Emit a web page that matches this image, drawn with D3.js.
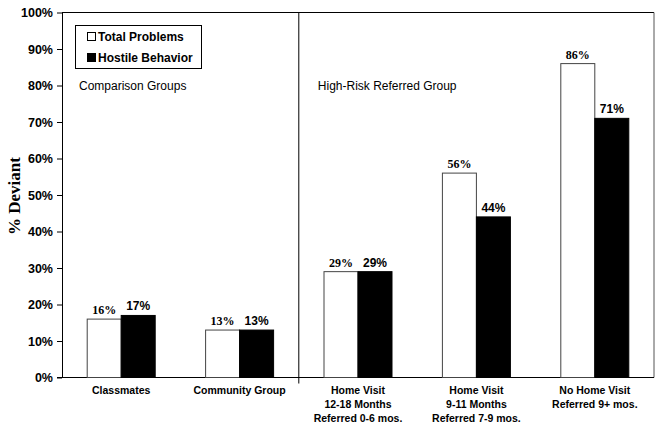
<!DOCTYPE html>
<html><head><meta charset="utf-8">
<script src="https://cdn.jsdelivr.net/npm/d3@7"></script>
<style>body{margin:0;background:#fff}svg{display:block}</style>
</head><body>
<svg id="c" width="662" height="429"></svg>
<script>
const categories = [
  ["Classmates"],
  ["Community Group"],
  ["Home Visit", "12-18 Months", "Referred 0-6 mos."],
  ["Home Visit", "9-11 Months", "Referred 7-9 mos."],
  ["No Home Visit", "Referred 9+ mos."]
];
const seriesNames = ["Total Problems", "Hostile Behavior"];
const totalProblems = [16, 13, 29, 56, 86];
const hostileBehavior = [17, 13, 29, 44, 71];
const yTicks = [0, 10, 20, 30, 40, 50, 60, 70, 80, 90, 100];
const groupLabels = ["Comparison Groups", "High-Risk Referred Group"];

const svg = d3.select("#c");
const L = 62, R = 654, T = 12.5, B = 377.5;
const x = d3.scaleBand().domain(d3.range(categories.length)).range([L, R]).paddingInner(0.4257).paddingOuter(0.21285);
const xs = d3.scaleBand().domain([0, 1]).range([0, x.bandwidth()]);
const y = d3.scaleLinear().domain([0, 100]).range([B, T]);
const sans = "Liberation Sans, Arial, sans-serif";
const serif = "Liberation Serif, Times New Roman, serif";

// frame top and right
svg.append("line").attr("x1", L).attr("x2", R).attr("y1", T).attr("y2", T).attr("stroke", "#000");
svg.append("line").attr("x1", R).attr("x2", R).attr("y1", T).attr("y2", B).attr("stroke", "#555");

// divider
const divX = (x(1) + x.bandwidth() + x(2)) / 2;
svg.append("line").attr("x1", divX).attr("x2", divX).attr("y1", T).attr("y2", B + 6).attr("stroke", "#000");

// y axis
const yAxis = d3.axisLeft(y).tickValues(yTicks).tickFormat(d => d + "%").tickSize(5).tickSizeOuter(0);
const ga = svg.append("g").attr("transform", `translate(${L},0)`).call(yAxis);
ga.select(".domain").attr("stroke", "#000");
ga.selectAll("text").attr("font-family", sans).attr("font-weight", "bold").attr("font-size", 12.5).attr("fill", "#000").attr("x", -9);

// x axis line
svg.append("line").attr("x1", L - 5).attr("x2", R).attr("y1", B).attr("y2", B).attr("stroke", "#000");

const series = [totalProblems, hostileBehavior];
const fills = ["#fff", "#000"];
series.forEach((vals, s) => {
  svg.append("g").selectAll("rect").data(vals).join("rect")
    .attr("x", (d, i) => x(i) + xs(s))
    .attr("width", xs.bandwidth())
    .attr("y", d => y(d))
    .attr("height", d => B - y(d))
    .attr("fill", fills[s])
    .attr("stroke", s === 0 ? "#444" : "#000");
  svg.append("g").selectAll("text").data(vals).join("text")
    .attr("x", (d, i) => x(i) + xs(s) + xs.bandwidth() / 2)
    .attr("y", d => y(d) - 5)
    .attr("text-anchor", "middle")
    .attr("font-family", s === 0 ? serif : sans)
    .attr("font-weight", "bold").attr("font-size", 12)
    .text(d => d + "%");
});

// category labels
categories.forEach((lines, i) => {
  const t = svg.append("text").attr("text-anchor", "middle")
    .attr("font-family", sans).attr("font-weight", "bold").attr("font-size", 10.5);
  lines.forEach((ln, j) => t.append("tspan").attr("x", x(i) + x.bandwidth() / 2).attr("y", 393.5 + j * 14).text(ln));
});

// group labels
svg.append("text").attr("x", 79).attr("y", 90).attr("font-family", sans).attr("font-size", 12).text(groupLabels[0]);
svg.append("text").attr("x", divX + 19).attr("y", 90).attr("font-family", sans).attr("font-size", 12).text(groupLabels[1]);

// y title
svg.append("text").attr("transform", "translate(20,196) rotate(-90)").attr("text-anchor", "middle")
  .attr("font-family", serif).attr("font-weight", "bold").attr("font-size", 17).text("% Deviant");

// legend
svg.append("rect").attr("x", 75.5).attr("y", 25.5).attr("width", 126).attr("height", 43).attr("fill", "#fff").attr("stroke", "#000");
seriesNames.forEach((n, i) => {
  const cy = 36.5 + i * 21;
  svg.append("rect").attr("x", 87.5).attr("y", cy - 4).attr("width", 8).attr("height", 8).attr("fill", fills[i]).attr("stroke", "#000");
  svg.append("text").attr("x", 98).attr("y", cy + 4.5).attr("font-family", sans).attr("font-weight", "bold").attr("font-size", 12).text(n);
});
</script>
</body></html>
